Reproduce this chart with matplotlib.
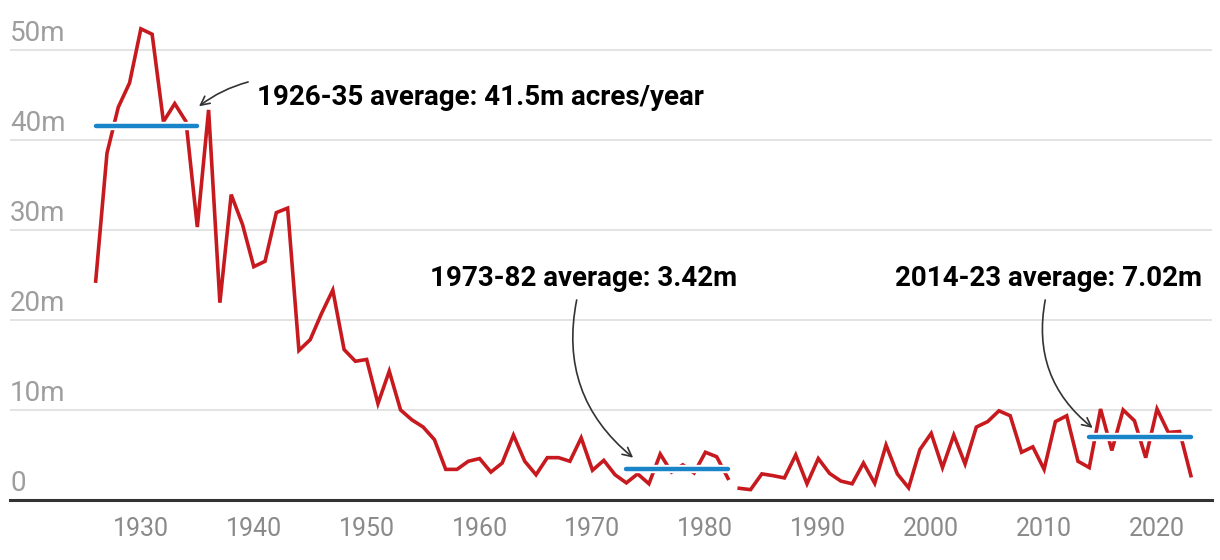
import matplotlib
matplotlib.use("Agg")
import matplotlib.pyplot as plt
import matplotlib.patheffects as pe
import matplotlib.transforms as mtransforms

# 年度过火面积（百万英亩），1982与1983之间数据口径不同，分两段绘制
years_early = list(range(1926, 1983))
acres_early = [
    24.3, 38.5, 43.6, 46.3, 52.3, 51.7, 42.0, 44.0, 42.0, 30.3,
    43.3, 21.9, 33.9, 30.6, 25.9, 26.5, 31.9, 32.4, 16.6, 17.8,
    20.7, 23.3, 16.7, 15.4, 15.6, 10.7, 14.3, 10.0, 8.9, 8.1,
    6.7, 3.4, 3.4, 4.3, 4.6, 3.1, 4.1, 7.2, 4.3, 2.8,
    4.7, 4.7, 4.3, 6.9, 3.3, 4.4, 2.8, 1.9, 2.9, 1.8,
    5.1, 3.1, 3.9, 3.0, 5.3, 4.8, 2.4,
]
years_late = list(range(1983, 2024))
acres_late = [
    1.3, 1.15, 2.9, 2.7, 2.45, 5.0, 1.8, 4.6, 2.95, 2.1,
    1.8, 4.1, 1.85, 6.1, 2.9, 1.35, 5.6, 7.4, 3.6, 7.2,
    4.0, 8.1, 8.7, 9.9, 9.35, 5.3, 5.9, 3.4, 8.7, 9.35,
    4.3, 3.6, 10.1, 5.5, 10.0, 8.8, 4.7, 10.1, 7.5, 7.6,
    2.7,
]

# 十年平均
avg_start = [1926, 1973, 2014]
avg_end = [1935, 1982, 2023]
avg_value = [41.5, 3.42, 7.02]
avg_labels = ["1926-35 average: 41.5m acres/year",
              "1973-82 average: 3.42m",
              "2014-23 average: 7.02m"]

y_ticks = [0, 10, 20, 30, 40, 50]
y_tick_labels = ["0", "10m", "20m", "30m", "40m", "50m"]
x_ticks = list(range(1930, 2030, 10))

RED = "#c71a1f"
BLUE = "#1a84c9"
GREY = "#9e9e9e"

plt.rcParams["font.family"] = ["Roboto", "DejaVu Sans"]

fig = plt.figure(figsize=(12.2, 5.6), dpi=100)
ax = fig.add_axes([10 / 1220, 60 / 560, 1202 / 1220, 500 / 560])
ax.set_xlim(1918.41, 2024.87)
ax.set_ylim(0, 55.5)

# 网格线与坐标轴
ax.set_yticks(y_ticks)
ax.yaxis.grid(True, color="#e3e3e3", lw=1.4)
ax.set_axisbelow(True)
ax.tick_params(axis="y", length=0, labelleft=False)
for side in ["top", "right", "left"]:
    ax.spines[side].set_visible(False)
ax.spines["bottom"].set_color("#333333")
ax.spines["bottom"].set_linewidth(2.2)
ax.set_xticks(x_ticks)
ax.tick_params(axis="x", length=0, pad=12, labelsize=18, labelcolor="#8a8a8a")

trans = mtransforms.blended_transform_factory(ax.transAxes, ax.transData)
for v, lab in zip(y_ticks, y_tick_labels):
    ax.annotate(lab, xy=(0, v), xycoords=trans, xytext=(0, 6.5),
                textcoords="offset points", ha="left", va="baseline",
                fontsize=20, color=GREY)

# 数据线
ax.plot(years_early, acres_early, color=RED, lw=2.6, solid_joinstyle="miter", zorder=3)
ax.plot(years_late, acres_late, color=RED, lw=2.6, solid_joinstyle="miter", zorder=3)

# 平均线（白色描边）
for s, e, v in zip(avg_start, avg_end, avg_value):
    ax.plot([s, e], [v, v], color=BLUE, lw=3.2, solid_capstyle="round", zorder=4,
            path_effects=[pe.Stroke(linewidth=6, foreground="white"), pe.Normal()])

# 标注文字和箭头
text_pos = [(1940.3, 43.9), (1955.6, 23.7), (1996.8, 23.7)]
arrow_from = [(1939.5, 46.4), (1968.6, 22.2), (2010.1, 22.2)]
arrow_to = [(1935.15, 43.7), (1973.6, 4.7), (2014.3, 8.0)]
arrow_rad = [0.1, 0.3, 0.3]
for lab, (tx, ty), p0, p1, r in zip(avg_labels, text_pos, arrow_from, arrow_to, arrow_rad):
    ax.text(tx, ty, lab, fontsize=20, fontweight="bold", color="black",
            ha="left", va="baseline", zorder=5)
    ax.annotate("", xy=p1, xytext=p0,
                arrowprops=dict(arrowstyle="->", color="#333333", lw=1.2,
                                mutation_scale=16,
                                connectionstyle=f"arc3,rad={r}",
                                shrinkA=0, shrinkB=0),
                zorder=5)

fig.savefig("out.png", dpi=100)
